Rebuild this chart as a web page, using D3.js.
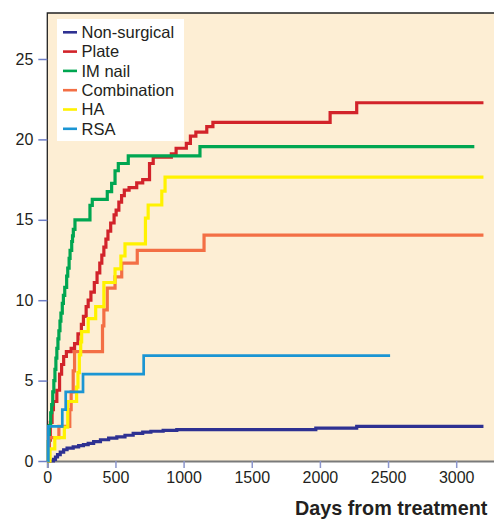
<!DOCTYPE html>
<html>
<head>
<meta charset="utf-8">
<script src="https://cdn.jsdelivr.net/npm/d3@7"></script>
<style>
  body { margin: 0; background: #fff; }
  svg { display: block; font-family: "Liberation Sans", Arial, sans-serif; }
</style>
</head>
<body>
<div id="chart"></div>
<script>
// Series: [day, cumulative value] step points
var nonSurgical = [[0, 0], [45, 0.1], [60, 0.25], [75, 0.4], [95, 0.55], [120, 0.7], [145, 0.8], [190, 0.88], [230, 0.95], [265, 1.02], [300, 1.1], [340, 1.2], [390, 1.32], [450, 1.42], [510, 1.5], [570, 1.6], [630, 1.72], [700, 1.8], [760, 1.85], [850, 1.9], [950, 1.95], [1970, 2.05], [2270, 2.15], [3200, 2.15]];
var plate = [[0, 0], [15, 1.3], [22, 2.4], [35, 3.2], [45, 3.7], [70, 4.4], [90, 5.4], [105, 6.0], [120, 6.5], [140, 6.8], [175, 7.0], [200, 7.3], [225, 7.9], [250, 8.5], [265, 9.0], [285, 9.6], [300, 10.0], [320, 10.5], [345, 11.1], [365, 11.7], [385, 12.3], [400, 12.8], [415, 13.3], [430, 13.8], [445, 14.3], [465, 14.8], [490, 15.3], [505, 15.6], [525, 16.1], [545, 16.5], [565, 16.85], [600, 17.0], [656, 17.3], [700, 17.5], [750, 18.5], [777, 18.9], [910, 19.1], [945, 19.45], [1020, 19.75], [1050, 20.2], [1090, 20.45], [1170, 20.8], [1215, 21.06], [2075, 21.66], [2270, 22.28], [3200, 22.28]];
var imNail = [[0, 0], [8, 1.2], [15, 2.2], [25, 3.0], [32, 3.5], [40, 4.3], [48, 5.0], [56, 5.7], [63, 6.4], [70, 7.0], [78, 7.6], [85, 8.1], [93, 8.7], [100, 9.2], [110, 9.8], [118, 10.3], [128, 10.8], [142, 11.5], [150, 12.0], [160, 12.6], [167, 13.1], [179, 13.65], [185, 14.0], [191, 14.4], [203, 15.0], [313, 15.9], [330, 16.27], [440, 16.75], [472, 17.27], [497, 18.05], [521, 18.5], [594, 18.97], [1120, 19.55], [3133, 19.55]];
var combination = [[0, 0], [12, 1.45], [85, 2.15], [165, 3.2], [175, 4.3], [190, 5.6], [200, 6.8], [400, 6.8], [405, 8.4], [415, 9.4], [440, 10.75], [497, 11.45], [546, 12.3], [660, 13.1], [1150, 14.05], [3200, 14.05]];
var ha = [[0, 0], [20, 0.75], [55, 1.45], [125, 2.1], [150, 3.7], [215, 4.6], [225, 5.5], [235, 6.6], [245, 7.4], [252, 8.05], [300, 8.85], [355, 9.6], [415, 11.1], [497, 11.95], [540, 12.75], [570, 13.5], [720, 15.1], [740, 15.92], [840, 16.78], [864, 17.65], [3200, 17.65]];
var rsa = [[0, 0], [8, 2.15], [110, 3.2], [135, 4.3], [262, 5.4], [707, 6.55], [2515, 6.55]];

var seriesNames = ["Non-surgical", "Plate", "IM nail", "Combination", "HA", "RSA"];
var seriesData = [nonSurgical, plate, imNail, combination, ha, rsa];
var seriesColors = ["#2e3192", "#d2232a", "#00a651", "#f36f45", "#fff200", "#1b95d3"];

var xTicks = [0, 500, 1000, 1500, 2000, 2500, 3000];
var yTicks = [0, 5, 10, 15, 20, 25];

var W = 494, H = 519;
var margin = { top: 13, left: 47.3, bottom: 58 };
var plotRight = 47.3 + 3300 * 0.1363;

var svg = d3.select("#chart").append("svg")
  .attr("width", W)
  .attr("height", H);

var x = d3.scaleLinear().domain([0, 3300]).range([margin.left, plotRight]);
var y = d3.scaleLinear().domain([0, 27.86]).range([H - margin.bottom, margin.top]);

// plot background
svg.append("rect")
  .attr("x", x(0)).attr("y", y(27.86))
  .attr("width", x(3300) - x(0))
  .attr("height", y(0) - y(27.86))
  .attr("fill", "#fdeed4");

// frame top + left
svg.append("path")
  .attr("d", "M" + x(0) + "," + y(0) + "V" + y(27.86) + "H" + x(3300))
  .attr("fill", "none")
  .attr("stroke", "#222")
  .attr("stroke-width", 1.3);

// x axis
var xAxis = svg.append("g")
  .attr("transform", "translate(0," + y(0) + ")")
  .call(d3.axisBottom(x).tickValues(xTicks).tickFormat(d3.format("d")).tickSize(7).tickPadding(4));
xAxis.select(".domain").attr("stroke", "#7a7a7a").attr("stroke-width", 2);
xAxis.selectAll(".tick line").attr("stroke", "#8c96cc").attr("stroke-width", 1.5);
xAxis.selectAll(".tick text").attr("font-size", "16px").attr("fill", "#231f20")
  .attr("font-family", "Liberation Sans, Arial, sans-serif");

// y axis
var yAxis = svg.append("g")
  .attr("transform", "translate(" + x(0) + ",0)")
  .call(d3.axisLeft(y).tickValues(yTicks).tickSize(9).tickPadding(5));
yAxis.select(".domain").remove();
yAxis.selectAll(".tick line").attr("stroke", "#6f7fc6").attr("stroke-width", 1.5);
yAxis.selectAll(".tick text").attr("font-size", "16px").attr("fill", "#231f20")
  .attr("font-family", "Liberation Sans, Arial, sans-serif");

// lines
var line = d3.line()
  .x(function (d) { return x(d[0]); })
  .y(function (d) { return y(d[1]); })
  .curve(d3.curveStepAfter);

seriesData.forEach(function (data, i) {
  svg.append("path")
    .datum(data)
    .attr("d", line)
    .attr("fill", "none")
    .attr("stroke", seriesColors[i])
    .attr("stroke-width", i === 5 ? 2.7 : 3.2);
});

// legend
var legend = svg.append("g");
legend.append("rect")
  .attr("x", 57).attr("y", 19)
  .attr("width", 127).attr("height", 122)
  .attr("fill", "#fff");

seriesNames.forEach(function (name, i) {
  var ly = 32.3 + i * 19.3;
  legend.append("line")
    .attr("x1", 63).attr("x2", 77)
    .attr("y1", ly).attr("y2", ly)
    .attr("stroke", seriesColors[i])
    .attr("stroke-width", 2.6);
  legend.append("text")
    .attr("x", 81.5).attr("y", ly + 5.8)
    .attr("font-size", "16.5px")
    .attr("fill", "#231f20")
    .text(name);
});

// axis title (kept fully inside the window)
svg.append("text")
  .attr("x", 295).attr("y", 515)
  .attr("font-size", "19.8px")
  .attr("font-weight", "bold")
  .attr("fill", "#231f20")
  .text("Days from treatment");
</script>
</body>
</html>
